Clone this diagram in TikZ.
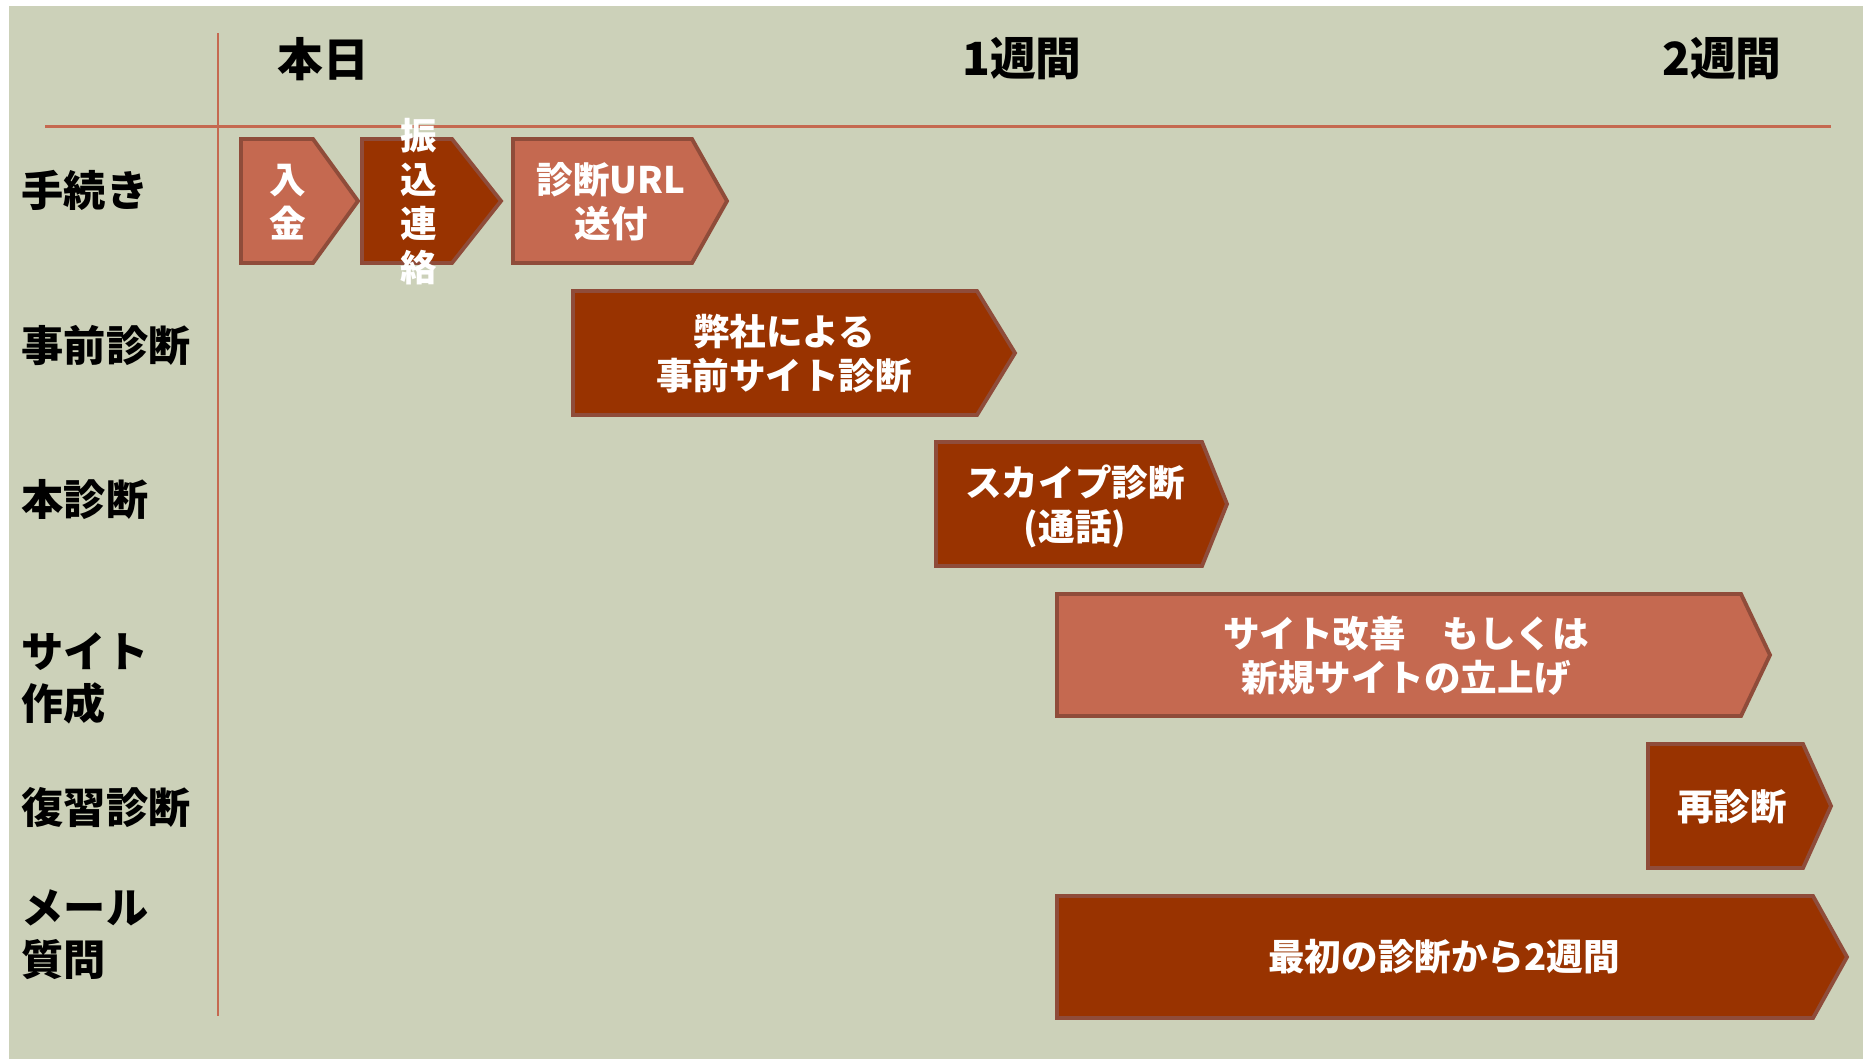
\documentclass[tikz,border=0pt]{standalone}
\usepackage{fontspec}
\setmainfont{Noto Sans CJK JP}
\definecolor{bgsage}{HTML}{CCD1B9}
\definecolor{rustlight}{HTML}{C56950}
\definecolor{rustdark}{HTML}{993300}
\definecolor{rustedge}{HTML}{8F4C3A}

\begin{document}
\begin{tikzpicture}[x=0.01cm,y=-0.01cm,
  lightstage/.style={fill=rustlight,draw=rustedge,line width=1.1pt},
  darkstage/.style={fill=rustdark,draw=rustedge,line width=1.1pt},
  stagetext/.style={text=white,font=\fontsize{10.4}{12.5}\selectfont\bfseries,align=center,inner sep=0pt},
  rowlabel/.style={anchor=west,font=\fontsize{12}{14.8}\selectfont\bfseries,align=left,inner sep=0pt},
  weeklabel/.style={font=\fontsize{13}{15}\selectfont\bfseries,inner sep=0pt},
  gridline/.style={draw=rustlight,line width=0.85pt}]
\useasboundingbox (0,0) rectangle (1863,1059);
\fill[white] (0,0) rectangle (1863,1059);
\fill[bgsage] (9,6) rectangle (1863,1059);

\draw[gridline] (218,33) -- (218,1016);
\draw[gridline] (45,126) -- (1831,126);

\node[weeklabel] (today) at (323,59) {本日};
\node[weeklabel] (week1) at (1022,59) {1週間};
\node[weeklabel] (week2) at (1722,59) {2週間};

\node[rowlabel] (procedure) at (21,190) {手続き};
\node[rowlabel] (prediag) at (21,345) {事前診断};
\node[rowlabel] (maindiag) at (21,499) {本診断};
\node[rowlabel] (sitebuild) at (21,678) {サイト\\作成};
\node[rowlabel] (review) at (21,807) {復習診断};
\node[rowlabel] (mailq) at (21,935) {メール\\質問};

% 手続き
\draw[lightstage] (241,139) -- (313,139) -- (358,201) -- (313,263) -- (241,263) -- cycle;
\node[stagetext] (payment) at (288,202) {入\\金};
\draw[darkstage] (362,139) -- (452,139) -- (501,201) -- (452,263) -- (362,263) -- cycle;
\node[stagetext] (transfer) at (419,202) {振\\込\\連\\絡};
\draw[lightstage] (513,139) -- (692,139) -- (727,201) -- (692,263) -- (513,263) -- cycle;
\node[stagetext] (urlsend) at (611,202) {診断URL\\送付};

% 事前診断
\draw[darkstage] (573,291) -- (977,291) -- (1015,353) -- (977,415) -- (573,415) -- cycle;
\node[stagetext] (precheck) at (784,354) {弊社による\\事前サイト診断};

% 本診断
\draw[darkstage] (936,442) -- (1202,442) -- (1227,504) -- (1202,566) -- (936,566) -- cycle;
\node[stagetext] (skype) at (1075,506) {スカイプ診断\\(通話)};

% サイト作成
\draw[lightstage] (1057,594) -- (1741,594) -- (1770,655) -- (1741,716) -- (1057,716) -- cycle;
\node[stagetext] (rebuild) at (1406,656) {サイト改善　もしくは\\新規サイトの立上げ};

% 復習診断
\draw[darkstage] (1648,744) -- (1803,744) -- (1831,806) -- (1803,868) -- (1648,868) -- cycle;
\node[stagetext] (recheck) at (1732,807) {再診断};

% メール質問
\draw[darkstage] (1057,896) -- (1813,896) -- (1847,957) -- (1813,1018) -- (1057,1018) -- cycle;
\node[stagetext] (mailperiod) at (1444,957) {最初の診断から2週間};

\end{tikzpicture}
\end{document}
